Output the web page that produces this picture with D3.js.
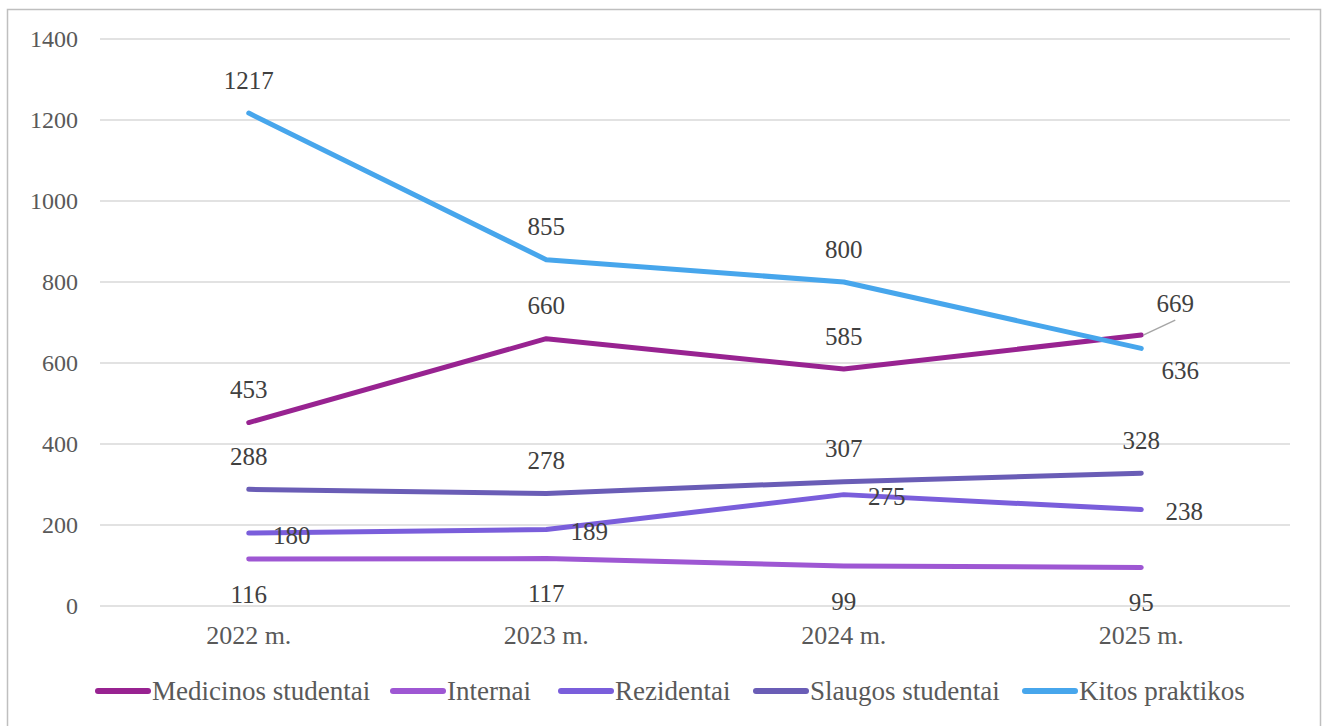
<!DOCTYPE html>
<html><head><meta charset="utf-8">
<script src="https://cdn.jsdelivr.net/npm/d3@7"></script>
<style>html,body{margin:0;padding:0;background:#fff;}svg{display:block;}</style>
</head><body>
<script>
const categories = ["2022 m.", "2023 m.", "2024 m.", "2025 m."];
const seriesNames = ["Medicinos studentai", "Internai", "Rezidentai", "Slaugos studentai", "Kitos praktikos"];
const medicinos = [453, 660, 585, 669];
const internai = [116, 117, 99, 95];
const rezidentai = [180, 189, 275, 238];
const slaugos = [288, 278, 307, 328];
const kitos = [1217, 855, 800, 636];
const yTicks = [0, 200, 400, 600, 800, 1000, 1200, 1400];
const colors = ["#982391", "#9E57D3", "#7A5EDB", "#6A5DB6", "#47A6EC"];
// label placement per series: "above", "below", "right"
const labelPos = ["above", "below", "right", "above", "above"];

const W = 1325, H = 726;
const FONT = "Liberation Serif";
const svg = d3.select("body").append("svg").attr("width", W).attr("height", H);

svg.append("rect").attr("x", 7.5).attr("y", 9.5).attr("width", 1313).attr("height", 740)
  .attr("fill", "#fff").attr("stroke", "#BFBFBF").attr("stroke-width", 1.5);

const x = d3.scaleBand().domain(categories).range([100, 1290]);
const y = d3.scaleLinear().domain([0, 1400]).range([606, 39]);
const cx = c => x(c) + x.bandwidth() / 2;

// gridlines
svg.append("g").selectAll("line").data(yTicks).join("line")
  .attr("x1", 100).attr("x2", 1290).attr("y1", d => y(d)).attr("y2", d => y(d))
  .attr("stroke", "#D9D9D9").attr("stroke-width", 1.5);

// y axis labels
const yAxis = d3.axisLeft(y).tickValues(yTicks).tickFormat(d3.format("d")).tickSize(0).tickPadding(0);
const gy = svg.append("g").attr("transform", "translate(78,0)").call(yAxis);
gy.select(".domain").remove();
gy.selectAll("text").style("font-family", FONT).style("font-size", "24px").attr("fill", "#595959").attr("dy", "0.33em");

// x axis labels
const xAxis = d3.axisBottom(x).tickSize(0).tickPadding(0);
const gx = svg.append("g").attr("transform", "translate(0,626)").call(xAxis);
gx.select(".domain").remove();
gx.selectAll("text").style("font-family", FONT).style("font-size", "26px").attr("fill", "#595959").attr("dy", "0.71em");

const allSeries = [medicinos, internai, rezidentai, slaugos, kitos];
const line = d3.line().x((d, i) => cx(categories[i])).y(d => y(d));

allSeries.forEach((vals, s) => {
  svg.append("path").datum(vals).attr("d", line).attr("fill", "none")
    .attr("stroke", colors[s]).attr("stroke-width", 5).attr("stroke-linecap", "round").attr("stroke-linejoin", "round");
});

// data labels
allSeries.forEach((vals, s) => {
  vals.forEach((v, i) => {
    let px = cx(categories[i]), py = y(v);
    let lx = px, ly = py - 33;
    let pos = labelPos[s];
    if (s === 4 && i === 3) pos = "belowright";
    if (s === 0 && i === 3) pos = "leader";
    if (pos === "below") { ly = py + 35; }
    else if (pos === "right") { lx = px + 43; ly = py + 2; }
    else if (pos === "belowright") { lx = px + 39; ly = py + 22; }
    else if (pos === "leader") {
      lx = px + 34; ly = py - 32;
      svg.append("line").attr("x1", px + 2).attr("y1", py).attr("x2", px + 34).attr("y2", py - 15)
        .attr("stroke", "#A6A6A6").attr("stroke-width", 1.5);
    }
    svg.append("text").attr("x", lx).attr("y", ly).attr("dy", "0.35em")
      .attr("text-anchor", "middle").style("font-family", FONT).style("font-size", "25px")
      .attr("fill", "#404040").text(v);
  });
});

// legend
const legendX = [95, 390, 558, 753, 1022];
const lg = svg.append("g");
seriesNames.forEach((n, s) => {
  lg.append("line").attr("x1", legendX[s] + 3).attr("x2", legendX[s] + 53).attr("y1", 691).attr("y2", 691)
    .attr("stroke", colors[s]).attr("stroke-width", 6).attr("stroke-linecap", "round");
  lg.append("text").attr("x", legendX[s] + 57).attr("y", 691).attr("dy", "0.35em")
    .style("font-family", FONT).style("font-size", "27px").attr("fill", "#595959").text(n);
});
</script>
</body></html>
